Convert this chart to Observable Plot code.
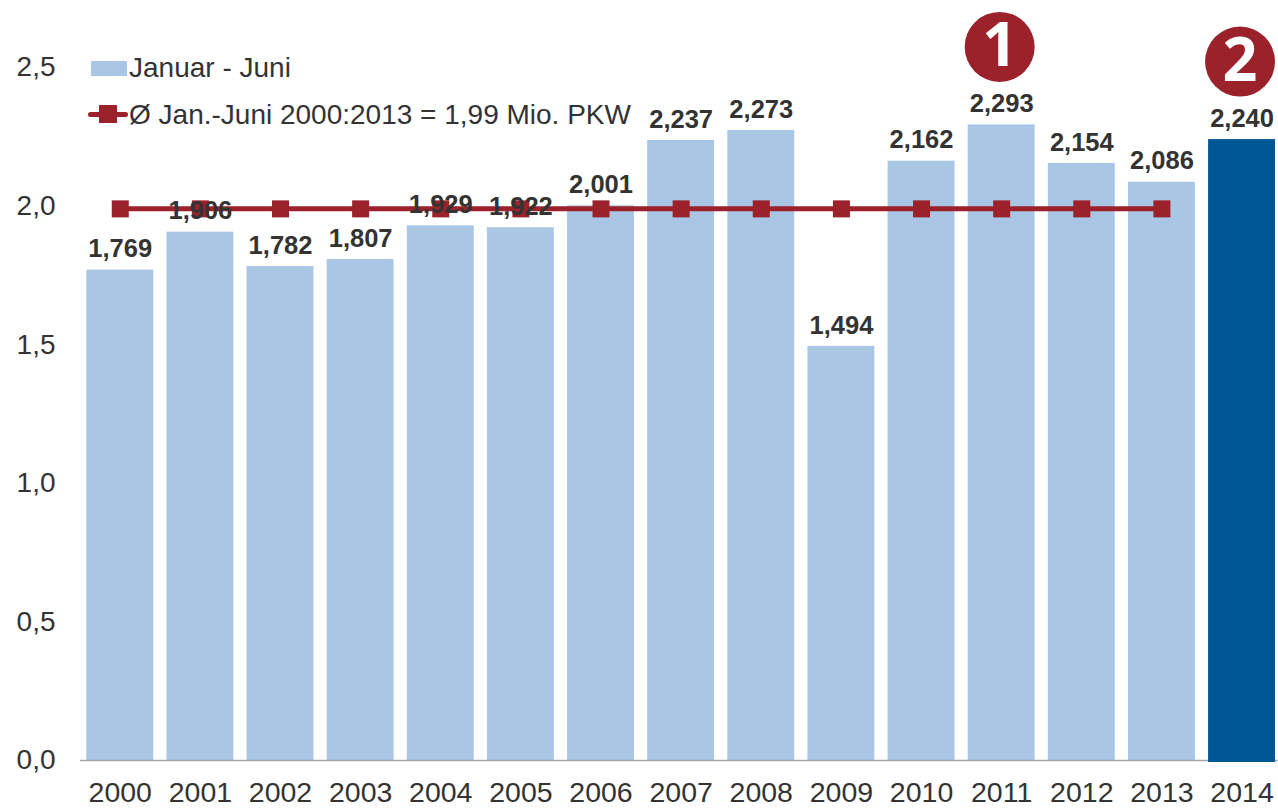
<!DOCTYPE html>
<html><head><meta charset="utf-8">
<script src="https://cdn.jsdelivr.net/npm/d3@7"></script>
<script src="https://cdn.jsdelivr.net/npm/@observablehq/plot@0.6"></script>
<style>
html,body{margin:0;padding:0;background:#fff}
#wrap{position:relative;width:1278px;height:808px;overflow:hidden;font-family:"Liberation Sans",Arial,sans-serif}
#wrap svg{position:absolute;left:0;top:0;overflow:hidden}
.lg{position:absolute;color:#333;font-size:28px;line-height:30px;white-space:nowrap;left:129px}
.sw{position:absolute}
</style></head><body><div id="wrap"></div>
<script>
const years = ["2000","2001","2002","2003","2004","2005","2006","2007","2008","2009","2010","2011","2012","2013","2014"];
const values = [1.769,1.906,1.782,1.807,1.929,1.922,2.001,2.237,2.273,1.494,2.162,2.293,2.154,2.086,2.240];
const average = 1.99;
const averageYears = years.slice(0,14);
const badges = [{year:"2011",value:2.293,label:"1"},{year:"2014",value:2.240,label:"2"}];
const yTicks = [0,0.5,1,1.5,2,2.5];
const legendBars = "Januar - Juni";
const legendLine = "Ø Jan.-Juni 2000:2013 = 1,99 Mio. PKW";

const light="#A9C6E5", dark="#005796", red="#9B212B", ink="#333333";
const data = years.map((year,i)=>({year,value:values[i]}));
const avg = averageYears.map(year=>({year,value:average}));
const comma = d=>d3.format(".1f")(d).replace(".",",");
const comma3 = d=>d3.format(".3f")(d).replace(".",",");
const font = "Liberation Sans, Arial, sans-serif";

const chart = Plot.plot({
  width:1278,height:808,marginLeft:80,marginRight:0,marginTop:0,marginBottom:48,
  style:{fontFamily:font,background:"#fff"},
  x:{domain:years,range:[79.7,1281.6],paddingInner:0.165,paddingOuter:0.0825,align:0.5,round:false,label:null},
  y:{domain:[0,2.5],range:[760,67],label:null},
  marks:[
    Plot.barY(data.slice(0,14),{x:"year",y:"value",fill:light}),
    Plot.ruleY([0],{stroke:"#A6A6A6",strokeWidth:1.5}),
    Plot.barY(data.slice(14),{x:"year",y:"value",fill:dark,insetBottom:-2}),
    Plot.axisY({ticks:yTicks,tickFormat:comma,tickSize:0,tickPadding:25,fontSize:28,color:ink,label:null}),
    Plot.axisX({tickSize:0,tickPadding:21,fontSize:28.5,color:ink,label:null}),
    Plot.line(avg,{x:"year",y:"value",stroke:red,strokeWidth:5,curve:"linear"}),
    Plot.dot(avg,{x:"year",y:"value",symbol:"square",r:9.6,fill:red,stroke:"none"}),
    Plot.text(data,{x:"year",y:"value",text:d=>comma3(d.value),dy:-21,fontSize:25.5,fontWeight:"bold",fill:ink}),
    Plot.dot(badges,{x:"year",y:"value",r:35,fill:red,dx:-2,dy:-78}),
    Plot.text(badges,{x:"year",y:"value",text:"label",fill:"#fff",fontSize:61,fontWeight:"bold",fontFamily:"Open Sans",dx:-2,dy:-78})
  ]
});
const wrap=document.getElementById("wrap");
wrap.appendChild(chart);
function box(cls,css,text){const e=document.createElement("div");e.className=cls;e.style.cssText=css;if(text)e.textContent=text;wrap.appendChild(e);}
box("sw",`left:91px;top:61px;width:36px;height:15px;background:${light}`);
box("lg","top:53px",legendBars);
box("sw",`left:88px;top:112px;width:40px;height:5px;border-radius:3px;background:${red}`);
box("sw",`left:99px;top:105px;width:18px;height:18px;background:${red}`);
box("lg","top:100px",legendLine);
</script></body></html>
